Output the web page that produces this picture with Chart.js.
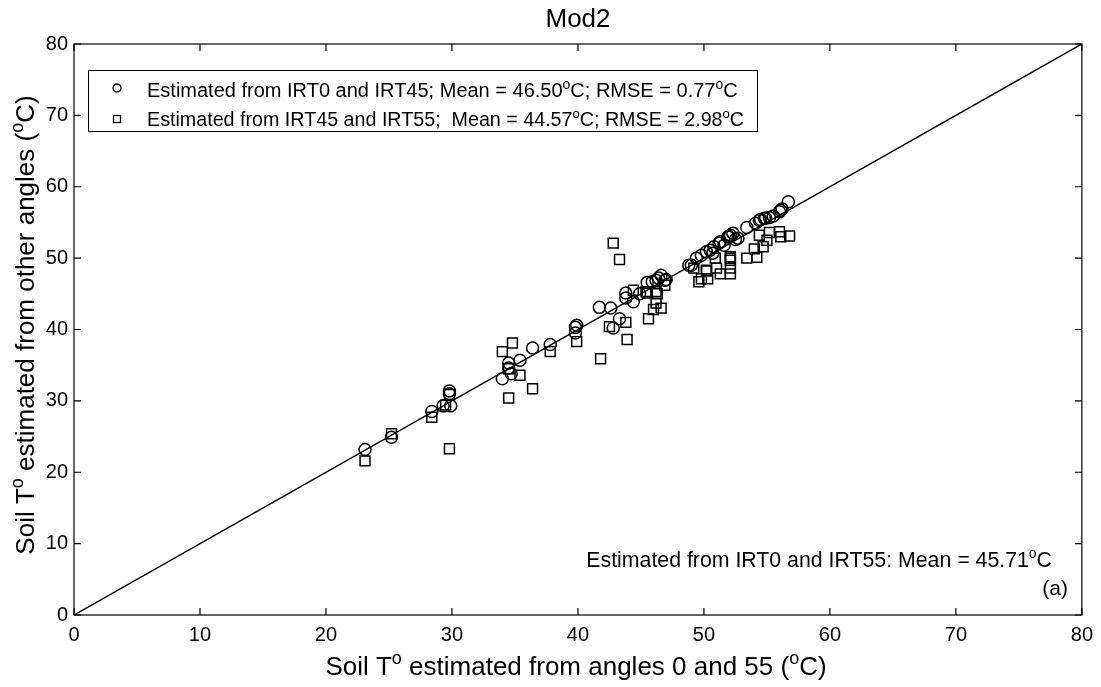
<!DOCTYPE html>
<html>
<head>
<meta charset="utf-8">
<script src="https://cdn.jsdelivr.net/npm/chart.js@4/dist/chart.umd.min.js"></script>
<style>
html, body { margin: 0; padding: 0; background: #fff; }
#wrap { width: 1101px; height: 687px; }
</style>
</head>
<body>
<div id="wrap"><canvas id="mychart"></canvas></div>
<script>
// IRT0 & IRT45 estimates (circles)
const circleX = [23.1, 25.2, 28.4, 29.3, 29.9, 29.8, 29.8, 34.0, 34.5, 34.5, 34.7, 35.4, 36.4, 37.8, 39.8, 39.8, 39.9,
    41.7, 42.6, 43.3, 42.8, 43.8, 43.8, 44.4, 44.9, 45.5, 45.9, 46.2, 46.6, 46.9, 46.4, 47.0, 48.8, 49.0, 49.4, 49.8,
    50.2, 50.5, 50.8, 50.7, 51.2, 51.3, 51.6, 51.9, 52.0, 52.1, 52.3, 52.5, 52.7, 53.4, 54.1, 54.4, 54.5, 54.8, 54.9,
    55.2, 55.5, 56.0, 56.1, 56.2, 56.7];
const circleY = [23.2, 24.9, 28.5, 29.3, 29.3, 31.4, 31.0, 33.1, 35.3, 34.6, 33.8, 35.7, 37.4, 37.9, 40.3, 39.5, 40.6,
    43.1, 43.0, 41.5, 40.2, 45.1, 44.4, 43.9, 45.0, 46.6, 46.7, 46.9, 47.6, 46.9, 47.2, 47.0, 49.0, 49.0, 50.0, 50.4,
    50.9, 51.1, 51.6, 50.7, 52.1, 52.3, 51.8, 53.0, 53.0, 53.2, 53.5, 52.6, 52.8, 54.3, 54.9, 55.3, 55.4, 55.6, 55.6,
    55.7, 55.9, 56.5, 56.7, 56.9, 57.9];

// IRT45 & IRT55 estimates (squares)
const squareX = [23.1, 25.2, 28.4, 29.5, 29.8, 29.8, 34.0, 34.8, 34.5, 34.5, 35.4, 36.4, 37.8, 39.9, 41.8, 42.5, 42.8,
    43.3, 43.8, 43.9, 44.4, 45.4, 45.6, 45.5, 46.0, 46.2, 46.6, 46.2, 46.9, 46.3, 49.2, 49.6, 49.8, 50.2, 50.3, 50.2,
    50.9, 51.0, 51.3, 52.1, 52.1, 52.1, 52.1, 52.1, 53.4, 54.0, 54.2, 54.4, 54.7, 55.0, 55.2, 56.0, 56.1, 56.8];
const squareY = [21.6, 25.4, 27.7, 29.4, 30.9, 23.3, 36.9, 38.1, 34.5, 30.4, 33.6, 31.7, 36.9, 38.3, 35.9, 40.4, 52.1,
    49.8, 41.0, 38.6, 45.5, 45.3, 41.5, 45.1, 42.8, 43.7, 43.0, 45.3, 46.2, 45.0, 48.6, 46.7, 47.1, 48.3, 47.1, 48.2,
    50.0, 48.6, 47.8, 49.7, 50.2, 48.6, 47.8, 50.0, 50.0, 51.3, 50.1, 53.2, 51.6, 52.5, 53.6, 53.7, 53.0, 53.1];

// 1:1 line
const lineX = [0, 80];
const lineY = [0, 80];

const xTicks = [0, 10, 20, 30, 40, 50, 60, 70, 80];
const yTicks = [0, 10, 20, 30, 40, 50, 60, 70, 80];

const FONT = '"Liberation Sans", Arial, sans-serif';

const toPoints = (xs, ys) => xs.map((x, i) => ({ x: x, y: ys[i] }));

// text with superscript pieces: [[text, isSup], ...]
const drawRich = (ctx, parts, x, y, size, align) => {
    const supSize = Math.round(size * 0.68);
    let total = 0;
    parts.forEach(p => {
        ctx.font = (p[1] ? supSize : size) + 'px ' + FONT;
        total += ctx.measureText(p[0]).width;
    });
    let cx = x;
    if (align === 'center') cx = x - total / 2;
    if (align === 'right') cx = x - total;
    ctx.textAlign = 'left';
    ctx.textBaseline = 'alphabetic';
    parts.forEach(p => {
        ctx.font = (p[1] ? supSize : size) + 'px ' + FONT;
        ctx.fillText(p[0], cx, p[1] ? y - size * 0.42 : y);
        cx += ctx.measureText(p[0]).width;
    });
};

const framePlugin = {
    id: 'frame',
    afterDraw(chart) {
        const ctx = chart.ctx;
        const a = chart.chartArea;
        const xs = chart.scales.x;
        const ys = chart.scales.y;
        ctx.save();
        ctx.strokeStyle = '#000';
        ctx.fillStyle = '#000';
        ctx.lineWidth = 1.2;
        ctx.strokeRect(a.left, a.top, a.right - a.left, a.bottom - a.top);
        const tl = 7;
        ctx.beginPath();
        xTicks.forEach(v => {
            const px = xs.getPixelForValue(v);
            ctx.moveTo(px, a.bottom); ctx.lineTo(px, a.bottom - tl);
            ctx.moveTo(px, a.top); ctx.lineTo(px, a.top + tl);
        });
        yTicks.forEach(v => {
            const py = ys.getPixelForValue(v);
            ctx.moveTo(a.left, py); ctx.lineTo(a.left + tl, py);
            ctx.moveTo(a.right, py); ctx.lineTo(a.right - tl, py);
        });
        ctx.stroke();

        // title
        ctx.font = '26px ' + FONT;
        ctx.textAlign = 'center';
        ctx.textBaseline = 'alphabetic';
        ctx.fillText('Mod2', 578, 27);

        // x title
        drawRich(ctx, [['Soil T', 0], ['o', 1], [' estimated from angles 0 and 55 (', 0], ['o', 1], ['C)', 0]],
            576, 675, 26, 'center');

        // y title
        ctx.save();
        ctx.translate(34, 325);
        ctx.rotate(-Math.PI / 2);
        drawRich(ctx, [['Soil T', 0], ['o', 1], [' estimated from other angles (', 0], ['o', 1], ['C)', 0]],
            0, 0, 26, 'center');
        ctx.restore();

        // legend box
        ctx.lineWidth = 1;
        ctx.strokeRect(88.5, 70.5, 669, 61);
        ctx.lineWidth = 1.3;
        ctx.beginPath();
        ctx.arc(117, 88, 4, 0, Math.PI * 2);
        ctx.stroke();
        ctx.strokeRect(113.5, 115.5, 7, 7);
        drawRich(ctx, [['Estimated from IRT0 and IRT45; Mean = 46.50', 0], ['o', 1], ['C; RMSE = 0.77', 0], ['o', 1], ['C', 0]],
            147, 97, 20, 'left');
        drawRich(ctx, [['Estimated from IRT45 and IRT55;  Mean = 44.57', 0], ['o', 1], ['C; RMSE = 2.98', 0], ['o', 1], ['C', 0]],
            147, 126, 19.7, 'left');

        // annotations
        drawRich(ctx, [['Estimated from IRT0 and IRT55: Mean = 45.71', 0], ['o', 1], ['C', 0]], 1052, 567, 21.3, 'right');
        ctx.font = '21px ' + FONT;
        ctx.textAlign = 'right';
        ctx.fillText('(a)', 1068, 595);
        ctx.restore();
    }
};

const ctx = document.getElementById('mychart').getContext('2d');
let myChart = new Chart(ctx, {
    type: 'scatter',
    data: {
        datasets: [
            {
                label: '1:1',
                type: 'line',
                data: toPoints(lineX, lineY),
                borderColor: '#000',
                borderWidth: 1.5,
                pointRadius: 0,
                fill: false
            },
            {
                label: 'Estimated from IRT0 and IRT45',
                data: toPoints(circleX, circleY),
                pointStyle: 'circle',
                pointRadius: 6,
                borderColor: '#000',
                borderWidth: 1.5,
                backgroundColor: 'rgba(0,0,0,0)'
            },
            {
                label: 'Estimated from IRT45 and IRT55',
                data: toPoints(squareX, squareY),
                pointStyle: 'rect',
                pointRadius: 7,
                borderColor: '#000',
                borderWidth: 1.5,
                backgroundColor: 'rgba(0,0,0,0)'
            }
        ]
    },
    options: {
        responsive: true,
        maintainAspectRatio: false,
        animation: false,
        layout: { padding: { top: 44, right: 18, left: 0, bottom: 0 } },
        plugins: { legend: { display: false }, tooltip: { enabled: false } },
        scales: {
            x: {
                type: 'linear', min: 0, max: 80,
                grid: { display: false, drawTicks: false },
                border: { display: false },
                afterBuildTicks: s => { s.ticks = xTicks.map(v => ({ value: v })); },
                ticks: { color: '#000', font: { family: FONT, size: 20 }, padding: 8, maxRotation: 0 },
                afterFit: s => { s.height = 72; }
            },
            y: {
                type: 'linear', min: 0, max: 80,
                grid: { display: false, drawTicks: false },
                border: { display: false },
                afterBuildTicks: s => { s.ticks = yTicks.map(v => ({ value: v })); },
                ticks: { color: '#000', font: { family: FONT, size: 20 }, padding: 6 },
                afterFit: s => { s.width = 74; }
            }
        }
    },
    plugins: [framePlugin]
});
</script>
</body>
</html>
